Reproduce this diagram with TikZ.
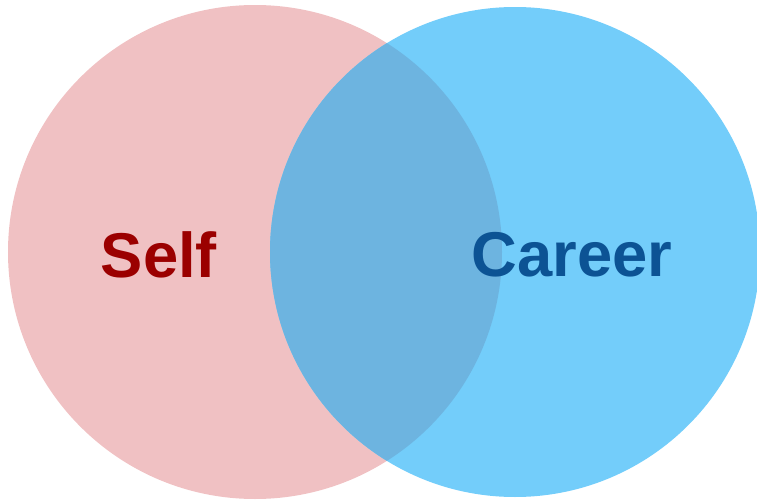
\documentclass[tikz,border=0pt]{standalone}
\usepackage{fontspec}
\setmainfont{Liberation Sans}
\definecolor{selfpink}{HTML}{F0C1C3}
\definecolor{careerblue}{HTML}{73CDFA}
\definecolor{bothblue}{HTML}{6DB4E0}
\definecolor{selfred}{HTML}{9B0000}
\definecolor{careerdark}{HTML}{0C5394}
\begin{document}
\begin{tikzpicture}[x=0.01cm,y=-0.01cm]
  \tikzstyle{lbl}=[anchor=base, inner sep=0pt, font=\bfseries\fontsize{18}{20}\selectfont]

  \useasboundingbox (0,0) rectangle (757,500);

  % the two sets
  \fill[selfpink] (255,252) circle (247);
  \fill[careerblue] (515,252) circle (245);
  \begin{scope}
    \clip (255,252) circle (247);
    \fill[bothblue] (515,252) circle (245);
  \end{scope}

  \node[lbl, text=selfred] (self) at (159,277) {Self};
  \node[lbl, text=careerdark] (career) at (572,276) {Career};
\end{tikzpicture}
\end{document}
